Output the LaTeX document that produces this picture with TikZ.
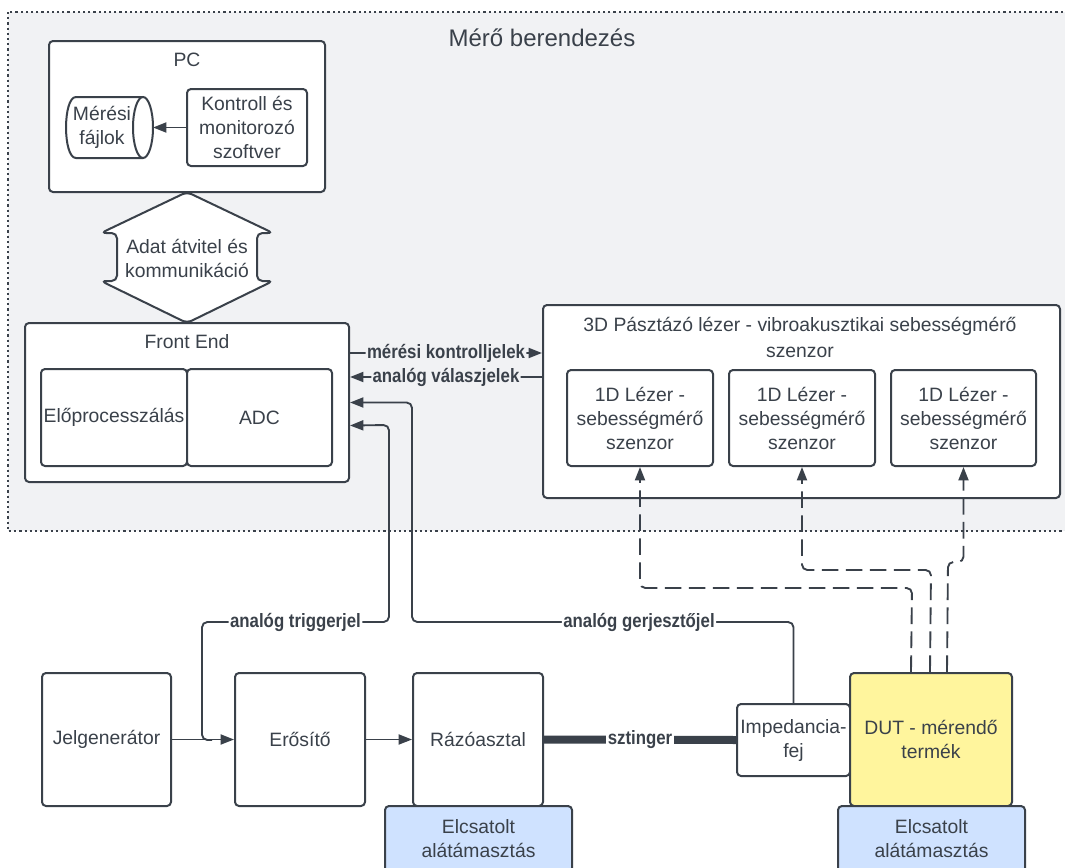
\documentclass[tikz,border=0pt]{standalone}
\usepackage{fontspec}
\setmainfont{Liberation Sans}
\newfontfamily\lblfont{Liberation Sans}[FakeStretch=0.87]
\usetikzlibrary{arrows.meta,calc}
\definecolor{ink}{HTML}{3A414A}
\definecolor{panel}{HTML}{F1F2F4}
\definecolor{duty}{HTML}{FFF59D}
\definecolor{mountblue}{HTML}{CFE2FF}

\tikzset{
  span/.style n args={4}{minimum width={(#3-#1)*0.75pt}, minimum height={(#4-#2)*0.75pt},
    at={({(#1+#3)/2},{(#2+#4)/2})}},
  box/.style={draw=ink, line width=1.5pt, rounded corners=3pt, fill=white,
    inner sep=0pt, align=center, text=ink, font=\fontsize{14.5}{18}\selectfont},
  txt/.style={text=ink, align=center, inner sep=0pt, font=\fontsize{14.5}{18}\selectfont},
  conn/.style={draw=ink, line width=1.4pt, rounded corners=4pt},
  tip/.style={-{Triangle[length=10pt,width=7.5pt]}},
  dashedlink/.style={conn, dash pattern=on 12.5pt off 5.5pt},
  sig/.style={text=ink, inner sep=1pt, font=\lblfont\bfseries\fontsize{14.5}{16}\selectfont},
}

\begin{document}
\begin{tikzpicture}[x=0.75pt,y=-0.75pt]
\useasboundingbox (0,0) rectangle (1065,868);
\clip (0,0) rectangle (1065,868);
\fill[white] (0,0) rectangle (1065,868);

% measuring equipment enclosure
\draw[ink, fill=panel, line width=1.7pt, dash pattern=on 1.7pt off 2.2pt] (8,12) rectangle (1085,531);
\node[txt, font=\fontsize{18}{21}\selectfont] (title) at (542,38) {Mérő berendezés};

% PC
\node[box, span={49}{41}{325}{192}] (pc) {};
\node[txt] (pctitle) at (187,60) {PC};
\node[box, span={187}{89}{307}{166}] (sw) {Kontroll és\\monitorozó\\szoftver};

% measurement files (storage cylinder)
\fill[white] (76,97) -- (143,97) -- (143,158) -- (76,158) .. controls (62.7,158) and (62.7,97) .. (76,97);
\draw[ink, line width=1.5pt] (143,97) -- (76,97) .. controls (62.7,97) and (62.7,158) .. (76,158) -- (143,158);
\draw[ink, line width=1.5pt, fill=white] (143,127.5) ellipse [x radius=10, y radius=30.5];
\node[txt] (files) at (102,127) {Mérési\\fájlok};
\coordinate (filesR) at (153,127.5);
\draw[conn, tip] (sw.west) -- (sw.west -| filesR);

% data transfer double arrow
\draw[ink, line width=1.5pt, fill=white, rounded corners=4pt]
  (187,192) -- (273,233) -- (257,233) -- (257,281) -- (273,281) -- (187,323)
  -- (101,281) -- (117,281) -- (117,233) -- (101,233) -- cycle;
\node[txt] (xfer) at (187,258) {Adat átvitel és\\kommunikáció};

% Front End
\node[box, span={25}{323}{349}{482}] (fe) {};
\node[txt] (fetitle) at (187,342) {Front End};
\node[box, span={41}{369}{187}{466}] (pre) {Előprocesszálás};
\node[box, span={187}{369}{332}{466}] (adc) {ADC};

% 3D scanning laser vibrometer
\node[box, span={543}{305}{1060}{498}] (ldv) {};
\node[txt, font=\fontsize{14.5}{19}\selectfont] (ldvtitle) at (800,337.5) {3D Pásztázó lézer - vibroakusztikai sebességmérő\\szenzor};
\node[box, span={567}{370}{713}{466}] (s1) {1D Lézer -\\sebességmérő\\szenzor};
\node[box, span={729}{370}{875}{466}] (s2) {1D Lézer -\\sebességmérő\\szenzor};
\node[box, span={891}{370}{1036}{466}] (s3) {1D Lézer -\\sebességmérő\\szenzor};

% control and response signals
\draw[conn, tip] ($(fe.north east)+(0,31)$) -- node[sig, fill=panel] (ctl) {mérési kontrolljelek} ($(ldv.north west)+(0,49)$);
\draw[conn, tip] ($(ldv.north west)+(0,73)$) -- node[sig, fill=panel] (resp) {analóg válaszjelek} ($(fe.north east)+(0,55)$);

% test bench
\node[box, span={42}{673}{171}{806}] (jel) {Jelgenerátor};
\node[box, span={235}{673}{365}{806}] (ero) {Erősítő};
\node[box, span={413}{673}{543}{806}] (raz) {Rázóasztal};
\node[box, span={737}{704}{850}{776}] (imp) {Impedancia-\\fej};
\node[box, fill=duty, span={850}{673}{1012}{806}] (dut) {DUT - mérendő\\termék};
\node[box, fill=mountblue, span={385}{806}{572}{872}] (mount1) {Elcsatolt\\alátámasztás};
\node[box, fill=mountblue, span={838}{806}{1025}{872}] (mount2) {Elcsatolt\\alátámasztás};

\draw[conn, tip] (jel) -- (ero);
\draw[conn, tip] (ero) -- (raz);
\draw[ink, line width=6pt] (raz.east) -- node[sig, fill=white] (stinger) {sztinger} (imp.west);

% trigger and excitation signals to the front end
\coordinate (tj) at (212,740);
\draw[conn, tip] (tj) -- (202,740) -- (202,622)
  -- node[sig, fill=white] (trig) {analóg triggerjel} (389,622)
  -- (389,425) -- ($(fe.east)+(0,23)$);
\draw[conn, tip] (imp.north) -- (793.5,622)
  -- node[pos=0.405, sig, fill=white] (exc) {analóg gerjesztőjel} (412,622)
  -- (412,402.5) -- (fe.east);

% laser beams from the DUT to the 1D sensors
\draw[dashedlink, tip] ($(dut.north west)+(62,0)$) -- (912,588) -- (640,588) -- (s1.south);
\draw[dashedlink, tip] ($(dut.north west)+(81,0)$) -- (931,570) -- (802,570) -- (s2.south);
\draw[dashedlink, tip] ($(dut.north west)+(98,0)$) -- (948,562) -- (963.5,562) -- (s3.south);
\end{tikzpicture}
\end{document}
